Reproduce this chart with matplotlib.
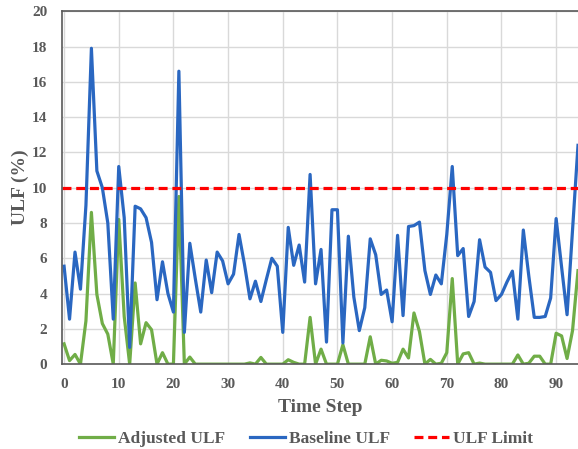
import matplotlib.pyplot as plt
import numpy as np

plt.rcParams['font.family'] = ['Liberation Serif', 'DejaVu Serif']
plt.rcParams['font.weight'] = 'bold'

# valori (passi 0..94)
passi = np.arange(95)
baseline_ulf = [
    5.55, 2.55, 6.35, 4.25, 9.0, 17.9, 10.95, 10.0, 8.0, 2.55,
    11.2, 8.3, 0.95, 8.95, 8.8, 8.3, 6.9, 3.65, 5.8, 4.0,
    2.95, 16.6, 1.8, 6.85, 4.85, 2.95, 5.9, 4.05, 6.35, 5.85,
    4.55, 5.1, 7.35, 5.65, 3.7, 4.7, 3.55, 4.8, 6.0, 5.55,
    1.8, 7.75, 5.6, 6.75, 4.65, 10.75, 4.55, 6.5, 1.25, 8.75,
    8.75, 1.2, 7.25, 3.8, 1.9, 3.2, 7.1, 6.2, 3.95, 4.2,
    2.4, 7.3, 2.75, 7.8, 7.85, 8.05, 5.3, 3.95, 5.05, 4.55,
    7.35, 11.2, 6.15, 6.55, 2.7, 3.55, 7.05, 5.5, 5.2, 3.6,
    3.95, 4.65, 5.27, 2.55, 7.6, 5.0, 2.65, 2.65, 2.7, 3.75,
    8.25, 5.5, 2.8, 7.6, 12.4,
]
adjusted_ulf = [
    1.15, 0.2, 0.55, 0.0, 2.45, 8.6, 3.95, 2.3, 1.7, 0.0,
    8.2, 2.7, 0.0, 4.6, 1.15, 2.35, 1.95, 0.0, 0.65, 0.0,
    0.0, 9.5, 0.0, 0.4, 0.0, 0.0, 0.0, 0.0, 0.0, 0.0,
    0.0, 0.0, 0.0, 0.0, 0.07, 0.0, 0.38, 0.0, 0.0, 0.0,
    0.0, 0.25, 0.1, 0.0, 0.0, 2.65, 0.0, 0.85, 0.0, 0.0,
    0.0, 1.1, 0.0, 0.0, 0.0, 0.0, 1.55, 0.0, 0.22, 0.18,
    0.05, 0.1, 0.85, 0.35, 2.9, 1.85, 0.0, 0.27, 0.0, 0.05,
    0.65, 4.85, 0.0, 0.58, 0.65, 0.0, 0.06, 0.0, 0.0, 0.0,
    0.0, 0.0, 0.0, 0.52, 0.0, 0.05, 0.45, 0.45, 0.0, 0.0,
    1.75, 1.6, 0.32, 1.9, 5.3,
]
limite_ulf = 10

col_testo = '#595959'

fig = plt.figure(figsize=(5.78, 4.49), dpi=100)
ax = fig.add_axes([0.108, 0.189, 0.892, 0.786])

ax.plot(passi, adjusted_ulf, color='#70AD47', lw=2.3, label='Adjusted ULF', solid_joinstyle='round')
ax.plot(passi, baseline_ulf, color='#2A67C1', lw=2.3, label='Baseline ULF', solid_joinstyle='round')
ax.axhline(limite_ulf, color='#FF0000', lw=2.3, ls=(0, (2.8, 1.5)), label='ULF Limit')

ax.set_xlim(-0.3, 94)
ax.set_ylim(0, 20)
ax.set_xticks(np.arange(0, 91, 10))
ax.set_yticks(np.arange(0, 21, 2))
ax.grid(True, color='#D9D9D9', lw=1)
ax.set_axisbelow(True)
ax.tick_params(length=0, labelsize=11, labelcolor=col_testo)
ax.tick_params(axis='x', pad=10)
ax.tick_params(axis='y', pad=11)
for lab in ax.get_xticklabels() + ax.get_yticklabels():
    lab.set_fontweight('bold')

for s in ['left', 'bottom', 'top']:
    ax.spines[s].set_color('#595959')
    ax.spines[s].set_linewidth(1.2)
ax.spines['right'].set_visible(False)

ax.set_xlabel('Time Step', fontsize=14, fontweight='bold', color=col_testo, labelpad=6)
ax.set_ylabel('ULF (%)', fontsize=14, fontweight='bold', color=col_testo, labelpad=2)

leg = fig.legend(loc='lower center', bbox_to_anchor=(0.53, -0.03), ncol=3, frameon=False,
                 prop={'weight': 'bold', 'size': 12.5}, handlelength=2.0, columnspacing=1.4,
                 handletextpad=0.25)
for t in leg.get_texts():
    t.set_color(col_testo)

fig.savefig('out.png', dpi=100)
